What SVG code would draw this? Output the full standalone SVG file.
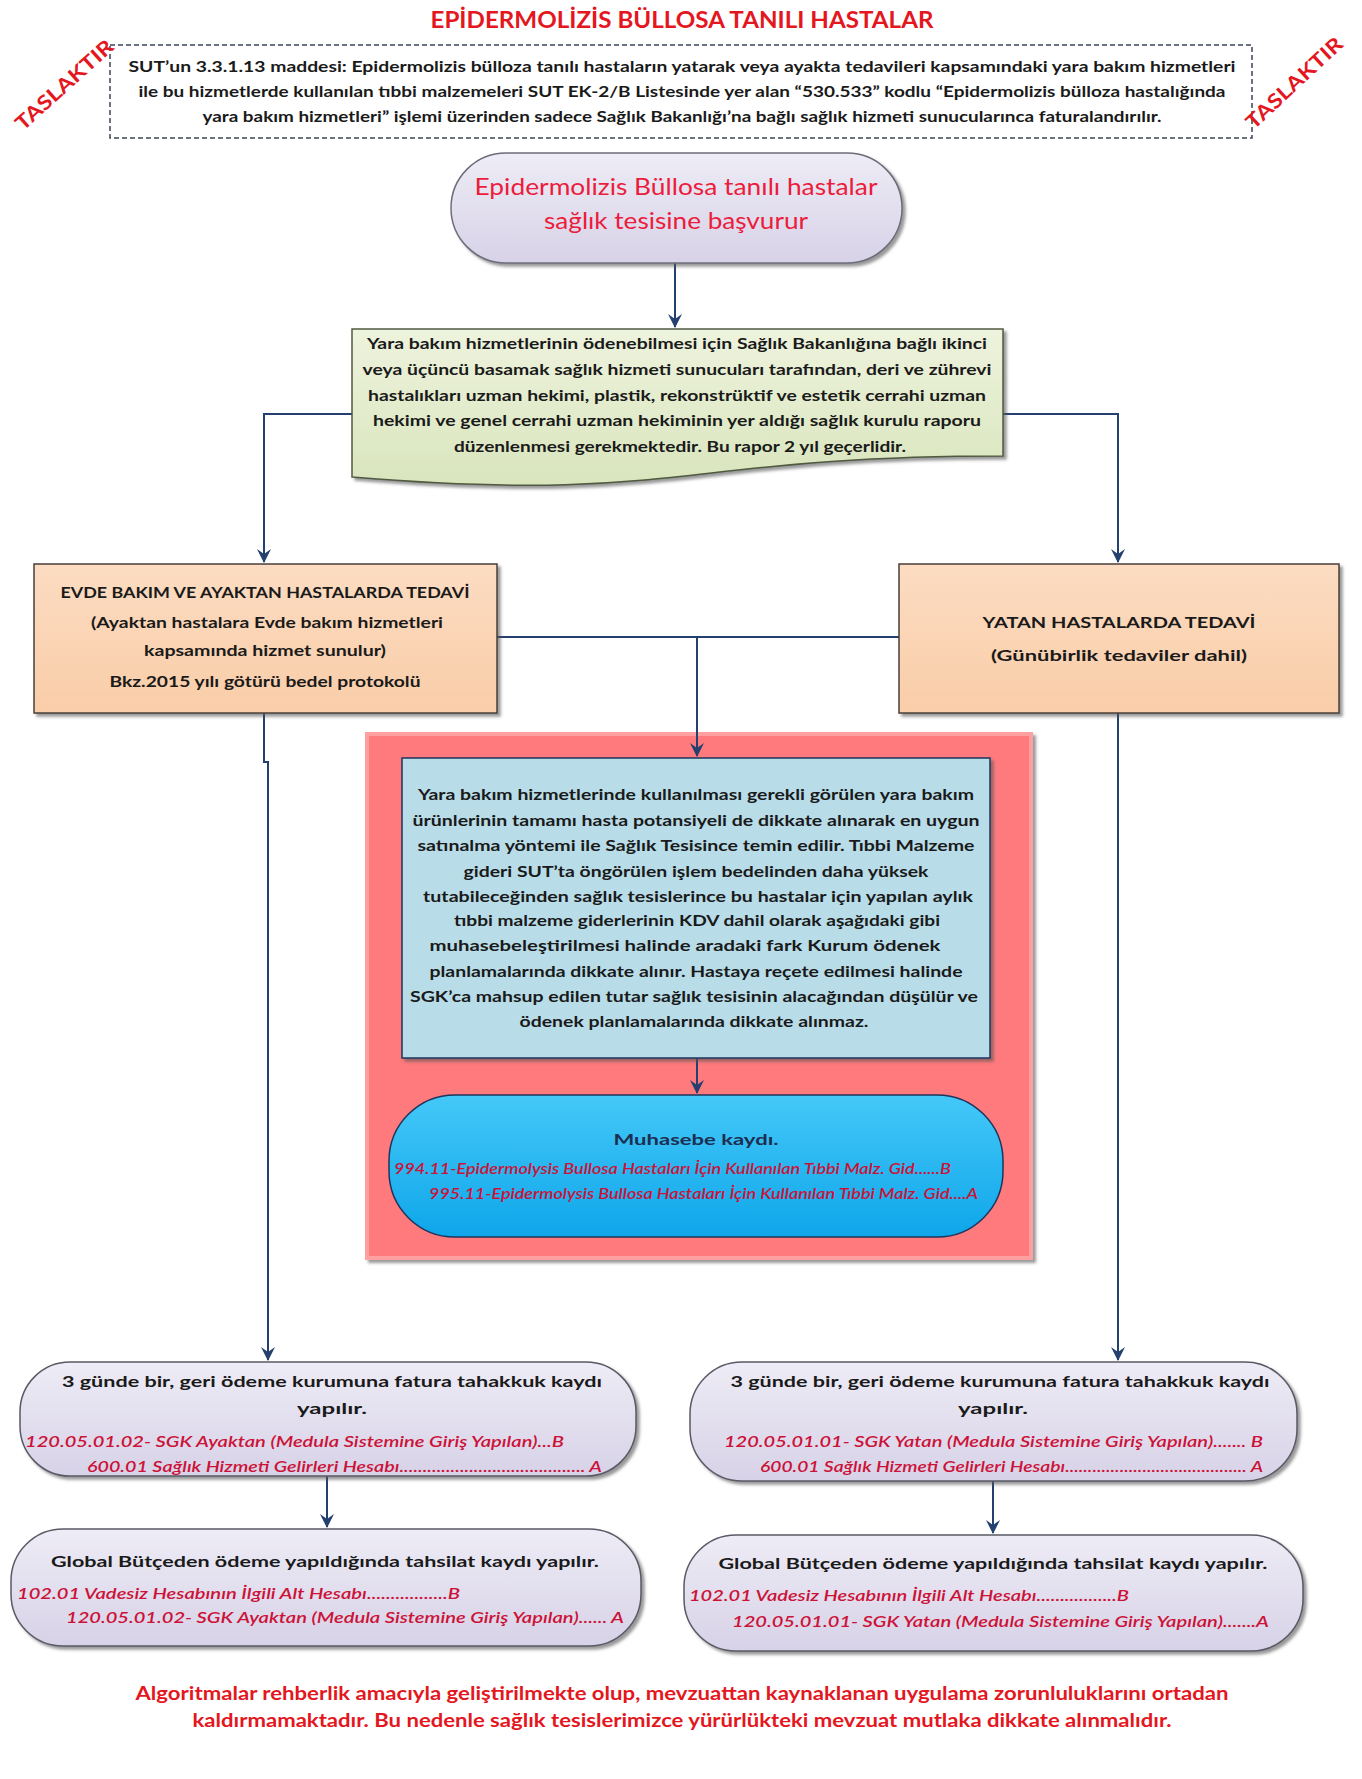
<svg xmlns="http://www.w3.org/2000/svg" width="1362" height="1779" viewBox="0 0 1362 1779">
<defs>
<style>
.t{font-family:Lato,"Open Sans","Noto Sans",sans-serif;font-weight:bold;fill:#1a1a1a;text-anchor:middle;font-size:16px}
.r{font-family:Lato,"Open Sans","Noto Sans",sans-serif;font-style:italic;font-weight:600;fill:#cc1238;font-size:15px}
.red{font-family:Lato,"Open Sans","Noto Sans",sans-serif;font-weight:bold;fill:#e4161e;text-anchor:middle}
.pk{font-family:Lato,"Open Sans","Noto Sans",sans-serif;fill:#ec1c3c;text-anchor:middle;font-size:23px}
.conn{fill:none;stroke:#24406e;stroke-width:2}
</style>
<marker id="ah" viewBox="0 0 14 14" refX="13" refY="7" markerWidth="14" markerHeight="14" markerUnits="userSpaceOnUse" orient="auto">
<path d="M0,0 L14,7 L0,14 L5,7 Z" fill="#24406e"/>
</marker>
<filter id="sh" x="-10%" y="-10%" width="120%" height="130%">
<feDropShadow dx="3" dy="3" stdDeviation="1.5" flood-color="#555" flood-opacity="0.6"/>
</filter>
<linearGradient id="lav" x1="0" y1="0" x2="0" y2="1"><stop offset="0" stop-color="#eeecf6"/><stop offset="1" stop-color="#d7d2e7"/></linearGradient>
<linearGradient id="grn" x1="0" y1="0" x2="0" y2="1"><stop offset="0" stop-color="#eef3dd"/><stop offset="1" stop-color="#d9e5bd"/></linearGradient>
<linearGradient id="cyan" x1="0" y1="0" x2="0" y2="1"><stop offset="0" stop-color="#45c8f8"/><stop offset="1" stop-color="#0ea6ea"/></linearGradient>
<linearGradient id="peach" x1="0" y1="0" x2="0" y2="1"><stop offset="0" stop-color="#fcdcc2"/><stop offset="1" stop-color="#f9cda8"/></linearGradient>
</defs>
<rect width="1362" height="1779" fill="#ffffff"/>

<text class="red" x="682" y="28" font-size="23" textLength="503" lengthAdjust="spacingAndGlyphs">EPİDERMOLİZİS BÜLLOSA TANILI HASTALAR</text>

<g id="note">
<rect x="110" y="45" width="1142" height="93" fill="#ffffff" stroke="#3a4556" stroke-width="1.5" stroke-dasharray="5 3"/>
<text class="t" x="682" y="72" textLength="1107" lengthAdjust="spacingAndGlyphs">SUT’un 3.3.1.13 maddesi: Epidermolizis bülloza tanılı hastaların yatarak veya ayakta tedavileri kapsamındaki yara bakım hizmetleri</text>
<text class="t" x="682" y="97" textLength="1087" lengthAdjust="spacingAndGlyphs">ile bu hizmetlerde kullanılan tıbbi malzemeleri SUT EK-2/B Listesinde yer alan “530.533” kodlu “Epidermolizis bülloza hastalığında</text>
<text class="t" x="682" y="122" textLength="959" lengthAdjust="spacingAndGlyphs">yara bakım hizmetleri” işlemi üzerinden sadece Sağlık Bakanlığı’na bağlı sağlık hizmeti sunucularınca faturalandırılır.</text>
</g>

<text class="red" font-size="20" transform="translate(69,90) rotate(-42)" textLength="124" lengthAdjust="spacingAndGlyphs">TASLAKTIR</text>
<text class="red" font-size="20" transform="translate(1299,88) rotate(-43)" textLength="124" lengthAdjust="spacingAndGlyphs">TASLAKTIR</text>

<g id="supply-frame">
<rect x="367" y="734" width="664" height="524" fill="#ff7a7c" stroke="#ffa0a0" stroke-width="4" filter="url(#sh)"/>
</g>

<g id="connectors">
<path class="conn" d="M675,263 V327" marker-end="url(#ah)"/>
<path class="conn" d="M352,414 H264 V562" marker-end="url(#ah)"/>
<path class="conn" d="M1003,414 H1118 V562" marker-end="url(#ah)"/>
<path class="conn" d="M497,637 H899"/>
<path class="conn" d="M697,637 V756" marker-end="url(#ah)"/>
<path class="conn" d="M697,1058 V1093" marker-end="url(#ah)"/>
<path class="conn" d="M264,713 V762 H268 V1360" marker-end="url(#ah)"/>
<path class="conn" d="M1118,713 V1360" marker-end="url(#ah)"/>
<path class="conn" d="M327,1476 V1527" marker-end="url(#ah)"/>
<path class="conn" d="M993,1481 V1533" marker-end="url(#ah)"/>
</g>

<g id="start">
<rect x="451" y="153" width="451" height="110" rx="55" fill="url(#lav)" stroke="#6d6d7a" stroke-width="1.5" filter="url(#sh)"/>
<text class="pk" x="676" y="195" textLength="403" lengthAdjust="spacingAndGlyphs">Epidermolizis Büllosa tanılı hastalar</text>
<text class="pk" x="676" y="229" textLength="264" lengthAdjust="spacingAndGlyphs">sağlık tesisine başvurur</text>
</g>

<g id="report">
<path d="M352,329 H1003 V456 C677.5,456 677.5,504 352,477 Z" fill="url(#grn)" stroke="#4f5a40" stroke-width="1.5" filter="url(#sh)"/>
<text class="t" x="677" y="349" textLength="620" lengthAdjust="spacingAndGlyphs">Yara bakım hizmetlerinin ödenebilmesi için Sağlık Bakanlığına bağlı ikinci</text>
<text class="t" x="677" y="375" textLength="629" lengthAdjust="spacingAndGlyphs">veya üçüncü basamak sağlık hizmeti sunucuları tarafından, deri ve zührevi</text>
<text class="t" x="677" y="401" textLength="618" lengthAdjust="spacingAndGlyphs">hastalıkları uzman hekimi, plastik, rekonstrüktif ve estetik cerrahi uzman</text>
<text class="t" x="677" y="426" textLength="608" lengthAdjust="spacingAndGlyphs">hekimi ve genel cerrahi uzman hekiminin yer aldığı sağlık kurulu raporu</text>
<text class="t" x="680" y="452" textLength="452" lengthAdjust="spacingAndGlyphs">düzenlenmesi gerekmektedir. Bu rapor 2 yıl geçerlidir.</text>
</g>

<g id="outpatient">
<rect x="34" y="564" width="463" height="149" fill="url(#peach)" stroke="#4a3f38" stroke-width="1.5" filter="url(#sh)"/>
<text class="t" x="265" y="598" font-size="15" textLength="409" lengthAdjust="spacingAndGlyphs">EVDE BAKIM VE AYAKTAN HASTALARDA TEDAVİ</text>
<text class="t" x="267" y="628" textLength="352" lengthAdjust="spacingAndGlyphs">(Ayaktan hastalara Evde bakım hizmetleri</text>
<text class="t" x="265" y="656" textLength="242" lengthAdjust="spacingAndGlyphs">kapsamında hizmet sunulur)</text>
<text class="t" x="265" y="687" textLength="311" lengthAdjust="spacingAndGlyphs">Bkz.2015 yılı götürü bedel protokolü</text>
</g>

<g id="inpatient">
<rect x="899" y="564" width="440" height="149" fill="url(#peach)" stroke="#4a3f38" stroke-width="1.5" filter="url(#sh)"/>
<text class="t" x="1119" y="628" textLength="273" lengthAdjust="spacingAndGlyphs">YATAN HASTALARDA TEDAVİ</text>
<text class="t" x="1119" y="661" textLength="256" lengthAdjust="spacingAndGlyphs">(Günübirlik tedaviler dahil)</text>
</g>

<g id="supply">
<rect x="402" y="758" width="588" height="300" fill="#b8dde9" stroke="#1d355e" stroke-width="1.5" filter="url(#sh)"/>
<text class="t" x="696" y="800" textLength="556" lengthAdjust="spacingAndGlyphs">Yara bakım hizmetlerinde kullanılması gerekli görülen yara bakım</text>
<text class="t" x="696" y="826" textLength="567" lengthAdjust="spacingAndGlyphs">ürünlerinin tamamı hasta potansiyeli de dikkate alınarak en uygun</text>
<text class="t" x="696" y="851" textLength="557" lengthAdjust="spacingAndGlyphs">satınalma yöntemi ile Sağlık Tesisince temin edilir. Tıbbi Malzeme</text>
<text class="t" x="696" y="877" textLength="465" lengthAdjust="spacingAndGlyphs">gideri SUT’ta öngörülen işlem bedelinden daha yüksek</text>
<text class="t" x="698" y="902" textLength="550" lengthAdjust="spacingAndGlyphs">tutabileceğinden sağlık tesislerince bu hastalar için yapılan aylık</text>
<text class="t" x="697" y="926" textLength="486" lengthAdjust="spacingAndGlyphs">tıbbi malzeme giderlerinin KDV dahil olarak aşağıdaki gibi</text>
<text class="t" x="685" y="951" textLength="511" lengthAdjust="spacingAndGlyphs">muhasebeleştirilmesi halinde aradaki fark Kurum ödenek</text>
<text class="t" x="696" y="977" textLength="533" lengthAdjust="spacingAndGlyphs">planlamalarında dikkate alınır. Hastaya reçete edilmesi halinde</text>
<text class="t" x="694" y="1002" textLength="568" lengthAdjust="spacingAndGlyphs">SGK’ca mahsup edilen tutar sağlık tesisinin alacağından düşülür ve</text>
<text class="t" x="694" y="1027" textLength="349" lengthAdjust="spacingAndGlyphs">ödenek planlamalarında dikkate alınmaz.</text>
</g>

<g id="accounting">
<rect x="389" y="1095" width="614" height="142" rx="66" fill="url(#cyan)" stroke="#1d355e" stroke-width="1.5"/>
<text class="t" x="696" y="1145" font-size="19" style="fill:#1d2f50" textLength="165" lengthAdjust="spacingAndGlyphs">Muhasebe kaydı.</text>
<text class="r" x="394" y="1174" textLength="557" lengthAdjust="spacingAndGlyphs">994.11-Epidermolysis Bullosa Hastaları İçin Kullanılan Tıbbi Malz. Gid......B</text>
<text class="r" x="429" y="1199" textLength="549" lengthAdjust="spacingAndGlyphs">995.11-Epidermolysis Bullosa Hastaları İçin Kullanılan Tıbbi Malz. Gid....A</text>
</g>

<g id="invoice-out">
<rect x="20" y="1362" width="616" height="114" rx="50" fill="url(#lav)" stroke="#5a5a66" stroke-width="1.5" filter="url(#sh)"/>
<text class="t" x="332" y="1387" font-size="19" textLength="540" lengthAdjust="spacingAndGlyphs">3 günde bir, geri ödeme kurumuna fatura tahakkuk kaydı</text>
<text class="t" x="332" y="1414" font-size="19" textLength="70" lengthAdjust="spacingAndGlyphs">yapılır.</text>
<text class="r" x="25" y="1447" font-size="16" textLength="539" lengthAdjust="spacingAndGlyphs">120.05.01.02- SGK Ayaktan (Medula Sistemine Giriş Yapılan)...B</text>
<text class="r" x="87" y="1472" font-size="16" textLength="515" lengthAdjust="spacingAndGlyphs">600.01 Sağlık Hizmeti Gelirleri Hesabı........................................ A</text>
</g>

<g id="collect-out">
<rect x="11" y="1529" width="630" height="117" rx="52" fill="url(#lav)" stroke="#5a5a66" stroke-width="1.5" filter="url(#sh)"/>
<text class="t" x="325" y="1567" font-size="19" textLength="548" lengthAdjust="spacingAndGlyphs">Global Bütçeden ödeme yapıldığında tahsilat kaydı yapılır.</text>
<text class="r" x="17" y="1599" font-size="16" textLength="443" lengthAdjust="spacingAndGlyphs">102.01 Vadesiz Hesabının İlgili Alt Hesabı.................B</text>
<text class="r" x="66" y="1623" font-size="16" textLength="558" lengthAdjust="spacingAndGlyphs">120.05.01.02- SGK Ayaktan (Medula Sistemine Giriş Yapılan)...... A</text>
</g>

<g id="invoice-in">
<rect x="690" y="1362" width="607" height="119" rx="52" fill="url(#lav)" stroke="#5a5a66" stroke-width="1.5" filter="url(#sh)"/>
<text class="t" x="1000" y="1387" font-size="19" textLength="539" lengthAdjust="spacingAndGlyphs">3 günde bir, geri ödeme kurumuna fatura tahakkuk kaydı</text>
<text class="t" x="993" y="1414" font-size="19" textLength="70" lengthAdjust="spacingAndGlyphs">yapılır.</text>
<text class="r" x="724" y="1447" font-size="16" textLength="539" lengthAdjust="spacingAndGlyphs">120.05.01.01- SGK Yatan (Medula Sistemine Giriş Yapılan)....... B</text>
<text class="r" x="760" y="1472" font-size="16" textLength="503" lengthAdjust="spacingAndGlyphs">600.01 Sağlık Hizmeti Gelirleri Hesabı........................................ A</text>
</g>

<g id="collect-in">
<rect x="684" y="1535" width="619" height="116" rx="52" fill="url(#lav)" stroke="#5a5a66" stroke-width="1.5" filter="url(#sh)"/>
<text class="t" x="993" y="1569" font-size="19" textLength="549" lengthAdjust="spacingAndGlyphs">Global Bütçeden ödeme yapıldığında tahsilat kaydı yapılır.</text>
<text class="r" x="689" y="1601" font-size="16" textLength="440" lengthAdjust="spacingAndGlyphs">102.01 Vadesiz Hesabının İlgili Alt Hesabı.................B</text>
<text class="r" x="732" y="1627" font-size="16" textLength="537" lengthAdjust="spacingAndGlyphs">120.05.01.01- SGK Yatan (Medula Sistemine Giriş Yapılan).......A</text>
</g>

<text class="red" x="682" y="1700" font-size="19" textLength="1093" lengthAdjust="spacingAndGlyphs">Algoritmalar rehberlik amacıyla geliştirilmekte olup, mevzuattan kaynaklanan uygulama zorunluluklarını ortadan</text>
<text class="red" x="682" y="1727" font-size="19" textLength="979" lengthAdjust="spacingAndGlyphs">kaldırmamaktadır. Bu nedenle sağlık tesislerimizce yürürlükteki mevzuat mutlaka dikkate alınmalıdır.</text>
</svg>
